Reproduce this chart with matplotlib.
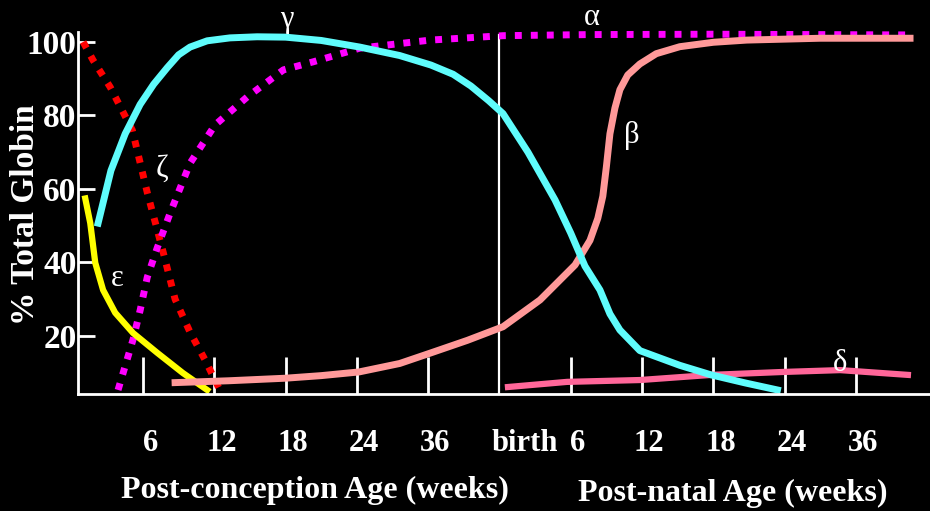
import matplotlib
matplotlib.use("Agg")
import matplotlib.pyplot as plt

# x positions are in tick units: 1..5 post-conception (6,12,18,24,36 wk), 6 = birth, 7..11 post-natal
tick_pos = [1, 2, 3, 4, 5, 6, 7, 8, 9, 10, 11]
tick_text = ["6", "12", "18", "24", "36", "", "6", "12", "18", "24", "36"]

zeta_x = [0.16, 0.30, 0.54, 0.85, 1.06, 1.28, 1.45, 1.66, 1.87, 2.06]
zeta_y = [100, 95, 87.7, 76, 59, 43, 30, 21, 13.5, 6]

eps_x = [0.19, 0.26, 0.33, 0.44, 0.61, 0.86, 1.20, 1.56, 1.90]
eps_y = [57.4, 50.7, 39.9, 32.5, 26.3, 20.8, 15.4, 9.9, 5.3]

gamma_x = [0.37, 0.55, 0.75, 0.96, 1.15, 1.34, 1.50, 1.66, 1.90, 2.22, 2.60, 3.00, 3.50,
           4.04, 4.60, 5.04, 5.35, 5.60, 5.85, 6.05, 6.40, 6.78, 7.00, 7.20, 7.41,
           7.55, 7.69, 7.97, 8.53, 8.97, 9.45, 9.90]
gamma_y = [50.7, 65, 75, 83, 88.5, 93, 96.5, 98.6, 100.3, 101.1, 101.4, 101.3, 100.4,
           98.6, 96.3, 93.7, 91.2, 88, 84, 80.5, 70, 57, 48, 39, 32.5,
           26, 21.6, 16, 12, 9.4, 7.2, 5.3]

alpha_x = [0.65, 0.86, 0.96, 1.06, 1.20, 1.38, 1.66, 2.01, 2.46, 2.97, 3.39, 4.04,
           5.03, 6.05, 7.27, 9.0, 11.76]
alpha_y = [5.3, 19, 27, 36, 44, 53.4, 67, 77.4, 85, 92.4, 94.6, 98.3,
           100.5, 101.7, 102.0, 102.1, 101.9]

beta_x = [1.45, 2.20, 3.00, 3.50, 4.03, 4.60, 5.04, 5.55, 6.05, 6.57, 7.06, 7.27,
          7.38, 7.45, 7.50, 7.55, 7.62, 7.69, 7.80, 7.97, 8.20, 8.53, 9.00, 9.47,
          10.5, 11.76]
beta_y = [7.3, 7.8, 8.5, 9.2, 10.2, 12.5, 15.4, 18.8, 22.5, 29.8, 39.3, 46,
          52, 58, 66, 75, 82, 87, 91, 94, 96.8, 98.7, 99.9, 100.5,
          101, 101]

delta_x = [6.12, 6.95, 7.97, 8.97, 9.98, 10.78, 11.73]
delta_y = [6.1, 7.5, 8.0, 9.4, 10.2, 10.7, 9.4]

# chain labels, anchored at their baseline
greek = [("γ", 3.02, 104.0), ("α", 7.30, 104.6), ("ζ", 1.27, 63.3), ("ε", 0.64, 33.6),
         ("β", 7.86, 72.5), ("δ", 10.78, 10.5)]

fig = plt.figure(figsize=(9.3, 5.11), dpi=100, facecolor="black")
ax = fig.add_axes([78 / 930, 117 / 511, 852 / 930, 362 / 511], facecolor="black")
ax.set_xlim(0.088, 12.04)
ax.set_ylim(4.2, 102.7)

for side in ("top", "right"):
    ax.spines[side].set_visible(False)
for side in ("left", "bottom"):
    ax.spines[side].set_color("white")
    ax.spines[side].set_linewidth(2)

serif = ["Liberation Serif", "DejaVu Serif"]

ax.set_yticks([20, 40, 60, 80, 100])
ax.set_yticklabels(["20", "40", "60", "80", "100"], fontsize=24, fontweight="bold",
                   family=serif, color="white")
ax.tick_params(axis="y", direction="in", length=12, width=2, color="white", pad=1)

ax.set_xticks([p for p in tick_pos if p != 6])
ax.set_xticklabels([])
ax.tick_params(axis="x", direction="in", length=27, width=2, color="white")
for p, t in zip(tick_pos, tick_text):
    if t:
        ax.text(p + 0.1, -0.098, t, transform=ax.get_xaxis_transform(), ha="center",
                va="top", fontsize=22, fontweight="bold", family=serif, color="white")
ax.text(6.36, -0.098, "birth", transform=ax.get_xaxis_transform(), ha="center",
        va="top", fontsize=22, fontweight="bold", family=serif, color="white")

# birth marker
ax.plot([6, 6], [4.2, 101.8], color="white", lw=1.6, clip_on=False)

dot = dict(linestyle=(0, (1, 1.3)), dash_capstyle="butt", lw=5, clip_on=False)
ax.plot(zeta_x, zeta_y, color="#ff0000", **dot)
ax.plot(alpha_x, alpha_y, color="#ff00ff", **dot)
ax.plot(eps_x, eps_y, color="#ffff00", lw=4.5, solid_joinstyle="round", clip_on=False)
ax.plot(beta_x, beta_y, color="#ff9999", lw=5, solid_joinstyle="round", clip_on=False)
ax.plot(delta_x, delta_y, color="#ff6699", lw=4.5, solid_joinstyle="round", clip_on=False)
ax.plot(gamma_x, gamma_y, color="#5ffcfc", lw=5, solid_joinstyle="round", clip_on=False)

for s, x, y in greek:
    ax.text(x, y, s, color="white", fontsize=22, ha="center", va="baseline",
            family=serif, clip_on=False)

fig.text(315 / 930, 1 - 490 / 511, "Post-conception Age (weeks)", ha="center", va="center",
         fontsize=23, fontweight="bold", family=serif, color="white")
fig.text(733 / 930, 1 - 493 / 511, "Post-natal Age (weeks)", ha="center", va="center",
         fontsize=23, fontweight="bold", family=serif, color="white")
fig.text(25 / 930, 1 - 215 / 511, "% Total Globin", ha="center", va="center", rotation=90,
         fontsize=24, fontweight="bold", family=serif, color="white")

fig.savefig("out.png", dpi=100, facecolor="black")
